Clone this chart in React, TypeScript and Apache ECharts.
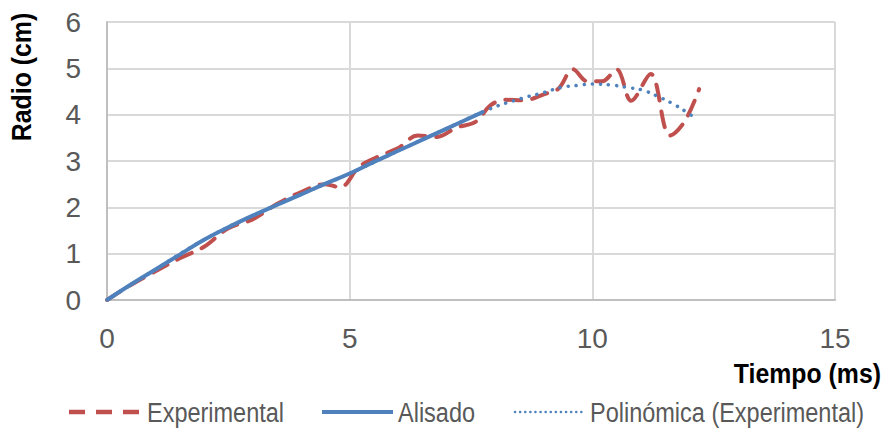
import React, { useEffect, useRef } from "react";
import * as echarts from "echarts";

const experimentalX = [0, 0.5, 1.0, 1.5, 2.0, 2.5, 3.0, 3.5, 4.0, 4.5, 4.8, 5.2, 5.6, 6.0, 6.4, 6.8, 7.2, 7.6, 7.9, 8.2, 8.6, 9.0, 9.3, 9.6, 9.9, 10.2, 10.5, 10.8, 11.2, 11.6, 11.9, 12.2];
const experimentalY = [0, 0.33, 0.62, 0.9, 1.15, 1.55, 1.74, 2.07, 2.33, 2.5, 2.43, 2.88, 3.1, 3.28, 3.55, 3.52, 3.72, 3.85, 4.2, 4.32, 4.31, 4.44, 4.56, 4.98, 4.72, 4.72, 4.98, 4.3, 4.88, 3.55, 3.85, 4.55];

const alisadoX = [0, 0.5, 1.0, 1.5, 2.0, 2.5, 3.0, 3.5, 4.0, 4.5, 5.0, 5.5, 6.0, 6.5, 7.0, 7.5, 7.75];
const alisadoY = [0, 0.34, 0.66, 0.98, 1.3, 1.57, 1.82, 2.05, 2.28, 2.51, 2.73, 2.98, 3.22, 3.46, 3.7, 3.94, 4.06];

const polyX = [0, 1, 2, 3, 4, 5, 6, 7, 7.88, 8.54, 9.01, 9.36, 9.69, 10.0, 10.39, 10.7, 11.03, 11.38, 11.65, 11.95, 12.1];
const polyY = [0, 0.66, 1.3, 1.82, 2.28, 2.73, 3.22, 3.7, 4.12, 4.35, 4.48, 4.59, 4.63, 4.66, 4.64, 4.59, 4.53, 4.38, 4.24, 4.05, 3.94];

const xTicks = { min: 0, max: 15, interval: 5 };
const yTicks = { min: 0, max: 6, interval: 1 };

const seriesNames = ["Experimental", "Alisado", "Polinómica (Experimental)"];
const xTitle = "Tiempo (ms)";
const yTitle = "Radio (cm)";

const zip = (xs: number[], ys: number[]) => xs.map((x, i) => [x, ys[i]]);

const FONT = "'Liberation Sans', Arial, sans-serif";
const RED = "#C0504D";
const BLUE = "#4F81BD";
const GREY = "#595959";

const legendY = 412;
const legendItems = [
  { name: seriesNames[0], x1: 69, x2: 140, tx: 147, stroke: RED, lineWidth: 4.5, dash: [16, 11] as number[] | null, cap: "butt" },
  { name: seriesNames[1], x1: 322, x2: 393, tx: 398, stroke: BLUE, lineWidth: 4, dash: null, cap: "butt" },
  { name: seriesNames[2], x1: 515, x2: 584, tx: 590, stroke: BLUE, lineWidth: 2.5, dash: [0.1, 5], cap: "round" },
];

export default function App() {
  const ref = useRef<HTMLDivElement>(null);
  useEffect(() => {
    if (!ref.current) return;
    const chart = echarts.init(ref.current, null, { renderer: "svg" });
    const legendGraphics: any[] = [];
    legendItems.forEach((it) => {
      legendGraphics.push({
        type: "line",
        shape: { x1: it.x1, y1: legendY, x2: it.x2, y2: legendY },
        style: { stroke: it.stroke, lineWidth: it.lineWidth, lineDash: it.dash || undefined, lineCap: it.cap },
      });
      legendGraphics.push({
        type: "text",
        x: it.tx,
        y: legendY,
        scaleX: 0.87,
        style: { text: it.name, font: `27px ${FONT}`, fill: GREY, align: "left", verticalAlign: "middle" },
      });
    });
    chart.setOption({
      animation: false,
      backgroundColor: "#ffffff",
      grid: { left: 107, right: 47, top: 22, bottom: 132, containLabel: false },
      xAxis: {
        type: "value",
        min: xTicks.min,
        max: xTicks.max,
        interval: xTicks.interval,
        axisLine: { show: true, lineStyle: { color: "#BFBFBF", width: 2 } },
        axisTick: { show: false },
        axisLabel: { color: GREY, fontSize: 28, fontFamily: FONT, margin: 24 },
        splitLine: { show: true, lineStyle: { color: "#D9D9D9", width: 2 } },
      },
      yAxis: {
        type: "value",
        min: yTicks.min,
        max: yTicks.max,
        interval: yTicks.interval,
        axisLine: { show: true, lineStyle: { color: "#BFBFBF", width: 2 } },
        axisTick: { show: false },
        axisLabel: { color: GREY, fontSize: 28, fontFamily: FONT, margin: 26 },
        splitLine: { show: true, lineStyle: { color: "#D9D9D9", width: 2 } },
      },
      graphic: [
        {
          type: "text",
          x: 22,
          y: 77,
          rotation: Math.PI / 2,
          scaleX: 0.92,
          style: {
            text: yTitle,
            font: `bold 27px ${FONT}`,
            fill: "#000",
            align: "center",
            verticalAlign: "middle",
          },
        },
        {
          type: "text",
          x: 881,
          y: 374,
          scaleX: 0.92,
          style: {
            text: xTitle,
            font: `bold 27px ${FONT}`,
            fill: "#000",
            align: "right",
            verticalAlign: "middle",
          },
        },
        ...legendGraphics,
      ],
      series: [
        {
          name: seriesNames[0],
          type: "line",
          data: zip(experimentalX, experimentalY),
          smooth: 0.35,
          symbol: "none",
          color: RED,
          lineStyle: { color: RED, width: 4, type: [16, 11], cap: "round" },
          z: 2,
        },
        {
          name: seriesNames[1],
          type: "line",
          data: zip(alisadoX, alisadoY),
          smooth: true,
          symbol: "none",
          color: BLUE,
          lineStyle: { color: BLUE, width: 4 },
          z: 3,
        },
        {
          name: seriesNames[2],
          type: "line",
          data: zip(polyX, polyY),
          smooth: true,
          symbol: "none",
          color: BLUE,
          lineStyle: { color: BLUE, width: 3.5, type: [0.1, 8], cap: "round" },
          z: 4,
        },
      ],
    });
    return () => chart.dispose();
  }, []);
  return <div ref={ref} style={{ width: 882, height: 432, position: "absolute", left: 0, top: 0 }} />;
}
